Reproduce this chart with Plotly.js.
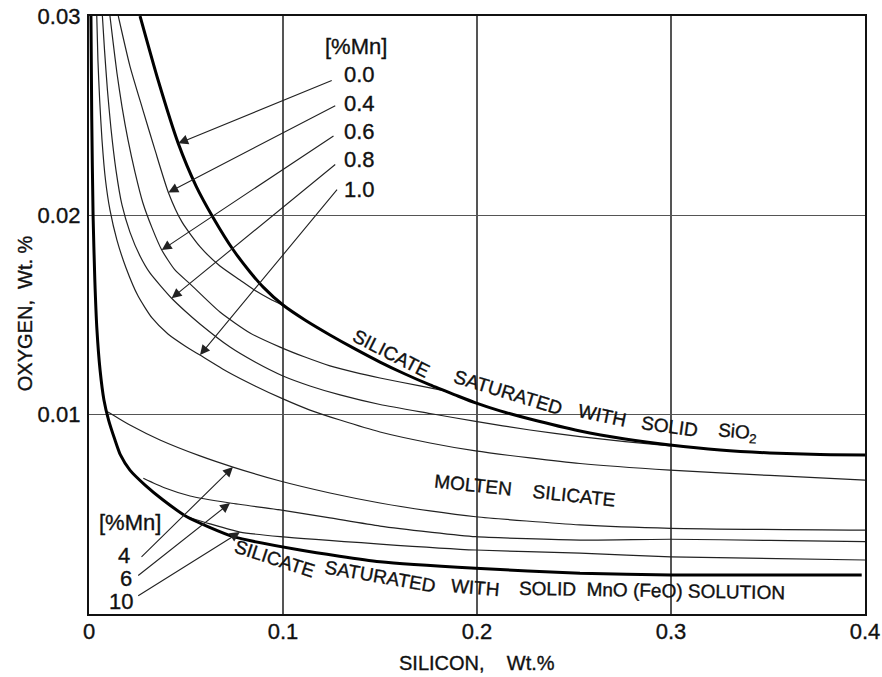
<!DOCTYPE html>
<html>
<head>
<meta charset="utf-8">
<script src="https://cdn.plot.ly/plotly-3.0.1.min.js"></script>
<style>
  html, body { margin: 0; padding: 0; background: #fff; }
  #chart { width: 882px; height: 677px; }
  /* slightly heavier lettering, like the printed diagram */
  #chart svg text { stroke: #111; stroke-width: 0.35px; }
</style>
</head>
<body>
<div id="chart"></div>
<script>
// Oxygen in equilibrium with silicon at various manganese contents (Fe-Si-Mn-O melts)

// Boundary: silicate saturated with solid SiO2 ([%Mn] = 0.0)
const siO2Sat_x = [0.0263, 0.0356, 0.0460, 0.0552, 0.0641, 0.0744, 0.0830, 0.0898, 0.1000, 0.1113, 0.1242, 0.1371, 0.1500, 0.1629, 0.1758, 0.1887, 0.1993, 0.2119, 0.2273, 0.2531, 0.2763, 0.2995, 0.3253, 0.3510, 0.3768, 0.4000];
const siO2Sat_y = [0.0300, 0.02679, 0.02361, 0.02147, 0.01987, 0.01826, 0.01716, 0.01640, 0.01550, 0.01475, 0.01400, 0.01330, 0.01264, 0.01204, 0.01149, 0.01099, 0.01059, 0.01019, 0.00978, 0.00918, 0.00878, 0.00848, 0.00823, 0.00808, 0.00800, 0.00798];

// Iso-manganese lines in the SiO2-saturated field
const mn04_x = [0.0151, 0.0211, 0.0278, 0.0340, 0.0409, 0.0479, 0.0572, 0.0675, 0.0778, 0.0861, 0.0933, 0.1000];
const mn04_y = [0.0300, 0.02749, 0.02528, 0.02328, 0.02115, 0.01967, 0.01843, 0.01746, 0.01676, 0.01620, 0.01580, 0.01548];

const mn06_x = [0.0108, 0.0124, 0.0144, 0.0170, 0.0201, 0.0237, 0.0278, 0.0325, 0.0375, 0.0443, 0.0521, 0.0675, 0.0830, 0.0985, 0.1113, 0.1242, 0.1371, 0.1500, 0.1706, 0.1835];
const mn06_y = [0.0300, 0.02870, 0.02714, 0.02545, 0.02378, 0.02217, 0.02062, 0.01937, 0.01826, 0.01726, 0.01656, 0.01515, 0.01410, 0.01339, 0.01289, 0.01245, 0.01212, 0.01184, 0.01144, 0.01119];

const mn08_x = [0.0069, 0.0080, 0.0095, 0.0113, 0.0139, 0.0170, 0.0211, 0.0263, 0.0314, 0.0426, 0.0495, 0.0572, 0.0727, 0.0856, 0.1000, 0.1139, 0.1294, 0.1500, 0.1758, 0.1993, 0.2273, 0.2531, 0.2763, 0.2995];
const mn08_y = [0.0300, 0.02829, 0.02629, 0.02438, 0.02227, 0.02052, 0.01916, 0.01796, 0.01711, 0.01584, 0.01520, 0.01455, 0.01339, 0.01264, 0.01194, 0.01144, 0.01099, 0.01051, 0.01006, 0.00966, 0.00923, 0.00890, 0.00865, 0.00843];

const mn10_x = [0.0040, 0.0046, 0.0055, 0.0067, 0.0085, 0.0108, 0.0144, 0.0191, 0.0253, 0.0325, 0.0407, 0.0495, 0.0572, 0.0716, 0.0856, 0.1000, 0.1139, 0.1294, 0.1500, 0.1758, 0.1993, 0.2273, 0.2531, 0.2995, 0.3510, 0.4000];
const mn10_y = [0.0300, 0.02779, 0.02579, 0.02378, 0.02177, 0.02027, 0.01876, 0.01736, 0.01595, 0.01485, 0.01405, 0.01345, 0.01299, 0.01214, 0.01144, 0.01079, 0.01023, 0.00973, 0.00913, 0.00858, 0.00818, 0.00783, 0.00755, 0.00722, 0.00695, 0.00672];

// Boundary: silicate saturated with solid MnO (FeO) solution
const mnoSat_x = [0.0010, 0.0014, 0.0021, 0.0030, 0.0041, 0.0057, 0.0077, 0.0101, 0.0134, 0.0162, 0.0211, 0.0289, 0.0382, 0.0504, 0.0744, 0.1088, 0.1500, 0.1993, 0.2531, 0.2998, 0.3983];
const mnoSat_y = [0.0300, 0.02498, 0.02002, 0.01676, 0.01425, 0.01224, 0.01074, 0.00973, 0.00873, 0.00798, 0.00722, 0.00647, 0.00572, 0.00488, 0.00388, 0.00321, 0.00262, 0.00229, 0.00204, 0.00196, 0.00196];

// Iso-manganese lines in the molten-silicate field
const mn4_x = [0.0098, 0.0211, 0.0366, 0.0572, 0.0742, 0.0985, 0.1242, 0.1500, 0.1758, 0.1993, 0.2531, 0.2998, 0.4000];
const mn4_y = [0.01013, 0.00948, 0.00873, 0.00793, 0.00737, 0.00667, 0.00607, 0.00557, 0.00517, 0.00488, 0.00447, 0.00430, 0.00421];

const mn6_x = [0.0280, 0.0392, 0.0521, 0.0727, 0.0985, 0.1242, 0.1500, 0.1758, 0.1993, 0.2531, 0.2998, 0.3510, 0.4000];
const mn6_y = [0.00681, 0.00632, 0.00592, 0.00557, 0.00522, 0.00482, 0.00441, 0.00411, 0.00388, 0.00371, 0.00375, 0.00369, 0.00363];

const mn10L_x = [0.0504, 0.0624, 0.0778, 0.0985, 0.1500, 0.1993, 0.2531, 0.2998, 0.4000];
const mn10L_y = [0.00488, 0.00452, 0.00411, 0.00388, 0.00351, 0.00321, 0.00305, 0.00287, 0.00271];

// Tick labels
const xTicks = [0, 0.1, 0.2, 0.3, 0.4];
const xTickText = ["0", "0.1", "0.2", "0.3", "0.4"];
const yTicks = [0.01, 0.02, 0.03];
const yTickText = ["0.01", "0.02", "0.03"];

// Curve labels
const upperMn = ["0.0", "0.4", "0.6", "0.8", "1.0"];
const lowerMn = ["4", "6", "10"];

const FONT = "Liberation Sans, Arial, Helvetica, sans-serif";
const INK = "#111";
const NBSP = "\u00a0";

function curve(x, y, width, color) {
  return {
    x: x, y: y, type: "scatter", mode: "lines", hoverinfo: "skip",
    line: { color: color, width: width, shape: "spline", smoothing: 0.6 },
    showlegend: false
  };
}

const thin = 1.2, thick = 3;
const traces = [
  curve(mn04_x, mn04_y, thin, "#222"),
  curve(mn06_x, mn06_y, thin, "#222"),
  curve(mn08_x, mn08_y, thin, "#222"),
  curve(mn10_x, mn10_y, thin, "#222"),
  curve(mn4_x, mn4_y, thin, "#222"),
  curve(mn6_x, mn6_y, thin, "#222"),
  curve(mn10L_x, mn10L_y, thin, "#222"),
  curve(siO2Sat_x, siO2Sat_y, thick, "#000"),
  curve(mnoSat_x, mnoSat_y, thick, "#000")
];

// Arrow tips sit on a point of the curve they identify
const upperCurves = [[siO2Sat_x, siO2Sat_y, 2], [mn04_x, mn04_y, 4], [mn06_x, mn06_y, 8], [mn08_x, mn08_y, 9], [mn10_x, mn10_y, 12]];
const lowerCurves = [[mn4_x, mn4_y, 4], [mn6_x, mn6_y, 3], [mn10L_x, mn10L_y, 2]];

const annotations = [];

function label(text, x, y, opts) {
  annotations.push(Object.assign({
    text: text, x: x, y: y, xref: "x", yref: "y", showarrow: false,
    xanchor: "center", yanchor: "middle",
    font: { family: FONT, size: 19, color: INK }
  }, opts || {}));
}

function arrow(tipX, tipY, tailX, tailY) {
  annotations.push({
    text: "", x: tipX, y: tipY, ax: tailX, ay: tailY,
    xref: "x", yref: "y", axref: "x", ayref: "y",
    showarrow: true, arrowhead: 2, arrowsize: 1.8, arrowwidth: 1.1,
    arrowcolor: "#222", standoff: 0, startstandoff: 0
  });
}

const numFont = { family: FONT, size: 22, color: INK };

// Upper group: [%Mn] 0.0 ... 1.0
label("[%Mn]", 0.1206, 0.02845, { xanchor: "left", font: numFont });
const upperLabelY = [0.02709, 0.02561, 0.02420, 0.02278, 0.02132];
const upperTailY = [0.02679, 0.02554, 0.02403, 0.02261, 0.02136];
const upperTailX = [0.1259, 0.1277, 0.1268, 0.1277, 0.1285];
upperMn.forEach((t, i) => {
  label(t, 0.1304, upperLabelY[i], { xanchor: "left", font: numFont });
  const c = upperCurves[i];
  arrow(c[0][c[2]], c[1][c[2]], upperTailX[i], upperTailY[i]);
});

// Lower group: [%Mn] 4, 6, 10
label("[%Mn]", 0.0211, 0.00457, { font: numFont });
const lowerLabelX = [0.0180, 0.0191, 0.0165];
const lowerLabelY = [0.00291, 0.00176, 0.00065];
const lowerTailX = [0.0263, 0.0246, 0.0246];
const lowerTailY = [0.00279, 0.00187, 0.00087];
lowerMn.forEach((t, i) => {
  label(t, lowerLabelX[i], lowerLabelY[i], { font: numFont });
  const c = lowerCurves[i];
  arrow(c[0][c[2]], c[1][c[2]], lowerTailX[i], lowerTailY[i]);
});

// Words along the SiO2 saturation boundary
label("SILICATE", 0.1557, 0.01309, { textangle: 27 });
label("SATURATED", 0.2160, 0.01110, { textangle: 17 });
label("WITH", 0.2649, 0.00998, { textangle: 12 });
label("SOLID", 0.2990, 0.00940, { textangle: 8 });
label("SiO<sub>2</sub>", 0.3345, 0.00908, { textangle: 5 });

// Molten silicate field
label("MOLTEN" + NBSP.repeat(4) + "SILICATE", 0.2247, 0.00622, { textangle: 6 });

// Words along the MnO (FeO) saturation boundary
label("SILICATE", 0.0954, 0.00276, { textangle: 18 });
label("SATURATED", 0.1500, 0.00186, { textangle: 10 });
label("WITH", 0.1990, 0.00135, { textangle: 5 });
label("SOLID" + NBSP + NBSP + "MnO (FeO) SOLUTION", 0.2904, 0.00120, { textangle: 1 });

// Axis titles
annotations.push({
  text: "SILICON," + NBSP.repeat(4) + "Wt.%", xref: "paper", yref: "paper", x: 0.5, y: -0.082,
  xanchor: "center", yanchor: "middle", showarrow: false,
  font: { family: FONT, size: 20, color: INK }
});
annotations.push({
  text: "OXYGEN," + NBSP + NBSP + "Wt. %", xref: "paper", yref: "paper", x: -0.0825, y: 0.503,
  xanchor: "center", yanchor: "middle", showarrow: false, textangle: -90,
  font: { family: FONT, size: 20, color: INK }
});

const axisCommon = {
  showgrid: true, gridcolor: "#555", gridwidth: 1.3,
  zeroline: false, showline: true, linecolor: "#111", linewidth: 2.2, mirror: true,
  ticks: "", tickfont: numFont,
  fixedrange: true
};

const layout = {
  width: 882, height: 677,
  margin: { l: 89, r: 17, t: 16, b: 63 },
  paper_bgcolor: "#fff", plot_bgcolor: "#fff",
  showlegend: false,
  xaxis: Object.assign({}, axisCommon, {
    range: [0, 0.4], tickvals: xTicks, ticktext: xTickText, ticklabelstandoff: -4
  }),
  yaxis: Object.assign({}, axisCommon, {
    range: [0, 0.03], tickvals: yTicks, ticktext: yTickText, ticklabelstandoff: 2
  }),
  annotations: annotations
};

Plotly.newPlot("chart", traces, layout, { staticPlot: true, displayModeBar: false });
</script>
</body>
</html>
